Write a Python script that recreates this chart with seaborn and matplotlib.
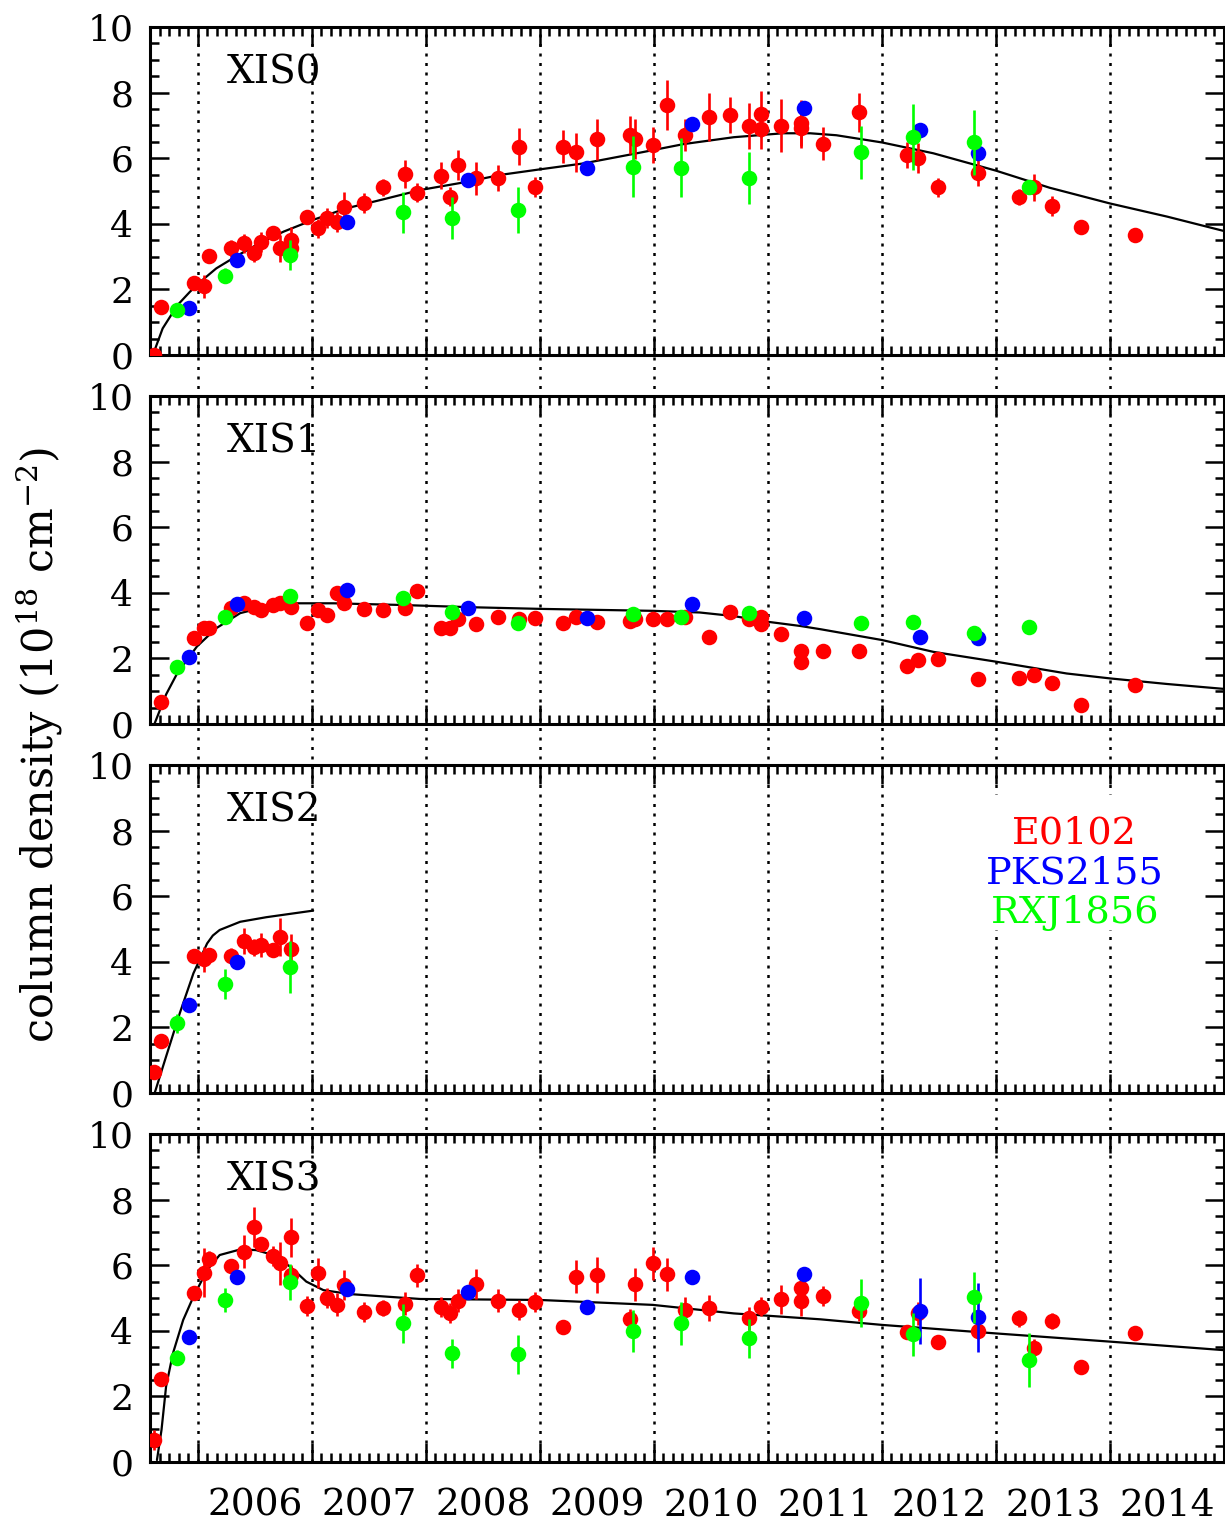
import numpy as np
import matplotlib
matplotlib.use("Agg")
import matplotlib.pyplot as plt
from matplotlib.transforms import blended_transform_factory
from matplotlib.patches import Rectangle
from matplotlib.ticker import MultipleLocator
import seaborn as sns

nan = np.nan

# ---------------------------------------------------------------- data
# E0102 observation epochs (decimal year)
e0102_t = [2005.617, 2005.675, 2005.968, 2006.055, 2006.100, 2006.290, 2006.400, 2006.490,
           2006.550, 2006.660, 2006.720, 2006.820, 2006.820, 2006.960, 2007.050, 2007.130,
           2007.220, 2007.280, 2007.460, 2007.620, 2007.820, 2007.920, 2008.130, 2008.210,
           2008.280, 2008.440, 2008.630, 2008.820, 2008.960, 2009.200, 2009.320, 2009.500,
           2009.790, 2009.830, 2009.990, 2010.110, 2010.270, 2010.480, 2010.670, 2010.830,
           2010.940, 2010.940, 2011.110, 2011.290, 2011.290, 2011.480, 2011.800, 2012.220,
           2012.320, 2012.490, 2012.840, 2013.200, 2013.330, 2013.490, 2013.750, 2014.220]

xis0_e0102 = [0.00, 1.47, 2.20, 2.10, 3.03, 3.25, 3.40, 3.10,
              3.45, 3.71, 3.25, 3.50, 3.25, 4.20, 3.86, 4.17,
              4.06, 4.52, 4.64, 5.11, 5.52, 4.95, 5.47, 4.83,
              5.79, 5.39, 5.39, 6.35, 5.13, 6.35, 6.18, 6.58,
              6.71, 6.58, 6.40, 7.62, 6.71, 7.25, 7.32, 6.98,
              7.34, 6.88, 6.99, 7.08, 6.91, 6.44, 7.40, 6.10,
              6.00, 5.11, 5.54, 4.81, 5.11, 4.54, 3.89, 3.66]
xis0_e0102_err = [0.05, 0.10, 0.15, 0.35, 0.20, 0.25, 0.30, 0.25,
                  0.30, 0.20, 0.40, 0.40, 0.40, 0.20, 0.30, 0.30,
                  0.30, 0.44, 0.30, 0.25, 0.43, 0.30, 0.40, 0.30,
                  0.46, 0.50, 0.40, 0.56, 0.30, 0.50, 0.60, 0.62,
                  0.57, 0.60, 0.54, 0.76, 0.50, 0.74, 0.54, 0.71,
                  0.70, 0.60, 0.80, 0.70, 0.60, 0.50, 0.60, 0.40,
                  0.45, 0.30, 0.40, 0.25, 0.40, 0.30, 0.15, 0.20]

xis1_e0102 = [nan, 0.68, 2.61, 2.92, 2.92, 3.53, 3.70, 3.58,
              3.48, 3.63, 3.70, 3.58, nan, 3.07, 3.48, 3.32,
              3.98, 3.70, 3.50, 3.48, 3.53, 4.06, 2.92, 2.94,
              3.19, 3.04, 3.27, 3.19, 3.22, 3.07, 3.27, 3.10,
              3.14, 3.19, 3.19, 3.20, 3.25, 2.64, 3.40, 3.20,
              3.27, 3.05, 2.73, 2.23, 1.90, 2.23, 2.23, 1.77,
              1.95, 1.98, 1.37, 1.39, 1.49, 1.26, 0.58, 1.19]
xis1_e0102_err = [nan, 0.05, 0.08, 0.08, 0.08, 0.08, 0.10, 0.08,
                  0.08, 0.08, 0.10, 0.10, nan, 0.08, 0.08, 0.08,
                  0.10, 0.10, 0.08, 0.08, 0.10, 0.08, 0.08, 0.08,
                  0.10, 0.08, 0.08, 0.10, 0.08, 0.08, 0.10, 0.10,
                  0.10, 0.10, 0.10, 0.12, 0.10, 0.10, 0.10, 0.10,
                  0.12, 0.10, 0.10, 0.10, 0.10, 0.10, 0.10, 0.08,
                  0.08, 0.08, 0.08, 0.08, 0.08, 0.08, 0.06, 0.06]

# XIS2 only covers the first twelve E0102 epochs
xis2_e0102 = [0.63, 1.59, 4.18, 4.08, 4.21, 4.18, 4.64, 4.44, 4.51, 4.36, 4.77, 4.39]
xis2_e0102_err = [0.05, 0.08, 0.10, 0.38, 0.20, 0.25, 0.40, 0.25, 0.36, 0.15, 0.58, 0.46]

xis3_e0102 = [0.67, 2.53, 5.16, 5.77, 6.19, 5.98, 6.41, 7.17,
              6.65, 6.29, 6.06, 6.85, 5.70, 4.76, 5.77, 4.99,
              4.79, 5.40, 4.58, 4.69, 4.82, 5.70, 4.72, 4.55,
              4.91, 5.43, 4.91, 4.63, 4.87, 4.13, 5.65, 5.70,
              4.35, 5.42, 6.06, 5.72, 4.63, 4.69, nan, 4.38,
              4.74, nan, 4.96, 5.30, 4.91, 5.06, 4.60, 3.97,
              4.53, 3.67, 4.00, 4.38, 3.49, 4.30, 2.89, 3.92]
xis3_e0102_err = [0.30, 0.10, 0.20, 0.75, 0.25, 0.20, 0.50, 0.60,
                  0.20, 0.30, 0.65, 0.60, 0.30, 0.30, 0.45, 0.30,
                  0.35, 0.45, 0.30, 0.25, 0.35, 0.35, 0.30, 0.30,
                  0.35, 0.45, 0.35, 0.30, 0.30, 0.20, 0.50, 0.55,
                  0.30, 0.50, 0.50, 0.50, 0.40, 0.40, nan, 0.35,
                  0.30, nan, 0.45, 0.40, 0.45, 0.30, 0.30, 0.20,
                  0.35, 0.20, 0.25, 0.25, 0.25, 0.25, 0.15, 0.20]

# PKS2155 epochs
pks2155_t = [2005.920, 2006.340, 2007.310, 2008.370, 2009.410, 2010.330, 2011.320, 2012.330, 2012.840]
xis0_pks2155 = [1.42, 2.90, 4.04, 5.34, 5.71, 7.03, 7.54, 6.86, 6.17]
xis0_pks2155_err = [0.05, 0.05, 0.05, 0.05, 0.05, 0.05, 0.05, 0.05, 0.05]
xis1_pks2155 = [2.05, 3.65, 4.09, 3.55, 3.22, 3.66, 3.22, 2.64, 2.63]
xis1_pks2155_err = [0.05, 0.05, 0.05, 0.05, 0.05, 0.05, 0.05, 0.05, 0.05]
xis2_pks2155 = [2.68, 3.98]
xis2_pks2155_err = [0.05, 0.05]
xis3_pks2155 = [3.82, 5.65, 5.26, 5.19, 4.72, 5.65, 5.73, 4.61, 4.41]
xis3_pks2155_err = [0.05, 0.05, 0.05, 0.05, 0.05, 0.05, 0.05, 1.00, 1.05]

# RXJ1856 epochs
rxj1856_t = [2005.820, 2006.240, 2006.810, 2007.800, 2008.230, 2008.810, 2009.820,
             2010.240, 2010.830, 2011.820, 2012.270, 2012.810, 2013.290]
xis0_rxj1856 = [1.37, 2.42, 3.05, 4.35, 4.19, 4.42, 5.74, 5.71, 5.39, 6.18, 6.64, 6.48, 5.11]
xis0_rxj1856_err = [0.10, 0.23, 0.45, 0.63, 0.64, 0.70, 0.93, 0.90, 0.79, 0.81, 1.00, 1.00, 0.10]
xis1_rxj1856 = [1.73, 3.25, 3.90, 3.83, 3.40, 3.07, 3.35, 3.27, 3.39, 3.09, 3.10, 2.78, 2.97]
xis1_rxj1856_err = [0.05, 0.05, 0.05, 0.05, 0.05, 0.05, 0.05, 0.05, 0.05, 0.05, 0.05, 0.05, 0.05]
xis2_rxj1856 = [2.12, 3.32, 3.83]
xis2_rxj1856_err = [0.30, 0.45, 0.79]
xis3_rxj1856 = [3.18, 4.94, 5.50, 4.23, 3.31, 3.28, 3.99, 4.23, 3.77, 4.86, 3.89, 5.02, 3.11]
xis3_rxj1856_err = [0.23, 0.36, 0.55, 0.60, 0.45, 0.60, 0.65, 0.65, 0.60, 0.73, 0.65, 0.78, 0.82]

# model curves
xis0_fit_t = [2005.620, 2005.690, 2005.820, 2005.930, 2006.020, 2006.160, 2006.340, 2006.540,
              2006.750, 2007.010, 2007.300, 2007.630, 2007.950, 2008.360, 2008.650, 2009.000,
              2009.380, 2009.820, 2010.260, 2010.700, 2011.130, 2011.370, 2011.600, 2012.000,
              2012.450, 2013.000, 2013.470, 2014.000, 2014.500, 2015.000]
xis0_fit_v = [0.15, 0.81, 1.52, 1.93, 2.23, 2.64, 3.02, 3.41,
              3.76, 4.12, 4.47, 4.75, 5.03, 5.28, 5.49, 5.66,
              5.84, 6.13, 6.43, 6.64, 6.76, 6.76, 6.70, 6.48,
              6.15, 5.62, 5.10, 4.62, 4.22, 3.78]

xis1_fit_t = [2005.620, 2005.720, 2005.820, 2005.990, 2006.160, 2006.370, 2006.600, 2006.840,
              2007.190, 2007.770, 2008.400, 2009.000, 2009.990, 2010.400, 2010.700, 2010.990,
              2011.280, 2011.460, 2012.000, 2012.450, 2013.000, 2013.620, 2014.000, 2014.500,
              2015.000]
xis1_fit_v = [0.02, 0.90, 1.56, 2.36, 2.92, 3.38, 3.58, 3.68,
              3.68, 3.63, 3.56, 3.51, 3.45, 3.40, 3.29, 3.12,
              2.99, 2.89, 2.56, 2.20, 1.90, 1.54, 1.39, 1.22,
              1.07]

xis2_fit_t = [2005.620, 2005.720, 2005.840, 2005.960, 2006.080, 2006.130, 2006.190, 2006.370,
              2006.600, 2007.010]
xis2_fit_v = [0.00, 1.11, 2.43, 3.65, 4.56, 4.80, 4.97, 5.22,
              5.36, 5.56]

xis3_fit_t = [2005.640, 2005.680, 2005.720, 2005.780, 2005.870, 2005.960, 2006.080, 2006.190,
              2006.370, 2006.510, 2006.660, 2006.810, 2006.950, 2007.100, 2007.330, 2007.950,
              2009.000, 2009.990, 2010.700, 2011.460, 2012.000, 2013.000, 2014.000, 2015.000]
xis3_fit_v = [0.06, 0.98, 2.30, 3.31, 4.33, 5.04, 5.85, 6.31,
              6.48, 6.46, 6.31, 5.95, 5.50, 5.24, 5.12, 4.97,
              4.94, 4.79, 4.53, 4.35, 4.18, 3.92, 3.67, 3.41]

year_labels = ["2006", "2007", "2008", "2009", "2010", "2011", "2012", "2013", "2014"]
source_names = ["E0102", "PKS2155", "RXJ1856"]
panel_names = ["XIS0", "XIS1", "XIS2", "XIS3"]

# ---------------------------------------------------------------- style
sns.set_theme(style="ticks")
plt.rcParams["font.family"] = ["DejaVu Serif"]
plt.rcParams["mathtext.fontset"] = "dejavuserif"

RED, BLUE, GREEN = "#ff0000", "#0000ff", "#00ff00"
FS = 26
XMIN, XMAX = 2005.579, 2015.0

W, H = 1225, 1527
fig = plt.figure(figsize=(W / 100, H / 100), dpi=100)
fig.patch.set_facecolor("white")


def frame(left, top, right, bottom):
    return [left / W, 1 - bottom / H, (right - left) / W, (bottom - top) / H]


# year boundaries running through all panels
guide = fig.add_axes(frame(150, 27, 1224, 1462), zorder=0)
guide.set_xlim(XMIN, XMAX)
guide.set_ylim(0, 1)
guide.axis("off")
boundaries = [int(y) for y in year_labels]
guide.vlines(boundaries, 0, 1, colors="black", linewidth=1.8,
             linestyles=(0, (1.2, 2.6)))

panels = [
    dict(fit=(xis0_fit_t, xis0_fit_v),
         e=(e0102_t, xis0_e0102, xis0_e0102_err),
         p=(pks2155_t, xis0_pks2155, xis0_pks2155_err),
         r=(rxj1856_t, xis0_rxj1856, xis0_rxj1856_err)),
    dict(fit=(xis1_fit_t, xis1_fit_v),
         e=(e0102_t, xis1_e0102, xis1_e0102_err),
         p=(pks2155_t, xis1_pks2155, xis1_pks2155_err),
         r=(rxj1856_t, xis1_rxj1856, xis1_rxj1856_err)),
    dict(fit=(xis2_fit_t, xis2_fit_v),
         e=(e0102_t[:len(xis2_e0102)], xis2_e0102, xis2_e0102_err),
         p=(pks2155_t[:len(xis2_pks2155)], xis2_pks2155, xis2_pks2155_err),
         r=(rxj1856_t[:len(xis2_rxj1856)], xis2_rxj1856, xis2_rxj1856_err)),
    dict(fit=(xis3_fit_t, xis3_fit_v),
         e=(e0102_t, xis3_e0102, xis3_e0102_err),
         p=(pks2155_t, xis3_pks2155, xis3_pks2155_err),
         r=(rxj1856_t, xis3_rxj1856, xis3_rxj1856_err)),
]

tops = [27, 396, 765, 1134]
axes = []
for i, (top, pdata) in enumerate(zip(tops, panels)):
    ax = fig.add_axes(frame(150, top, 1224, top + 328), zorder=1)
    ax.set_facecolor("none")
    axes.append(ax)

    ft, fv = pdata["fit"]
    sns.lineplot(x=ft, y=fv, ax=ax, color="black", linewidth=1.6,
                 estimator=None, sort=False, zorder=2)

    for key, col, z in (("e", RED, 3), ("p", BLUE, 4), ("r", GREEN, 5)):
        t, v, err = (np.asarray(a, dtype=float) for a in pdata[key])
        ax.vlines(t, v - err, v + err, colors=col, linewidth=1.9, zorder=z)
        sns.scatterplot(x=t, y=v, ax=ax, color=col, s=125, linewidth=0,
                        zorder=z + 0.1, legend=False)

    ax.set_xlim(XMIN, XMAX)
    ax.set_ylim(0, 10)
    ax.set_xlabel("")
    ax.set_ylabel("")
    ax.xaxis.set_major_locator(MultipleLocator(1))
    ax.xaxis.set_minor_locator(MultipleLocator(1 / 12))
    ax.yaxis.set_major_locator(MultipleLocator(2))
    ax.yaxis.set_minor_locator(MultipleLocator(0.5))
    ax.tick_params(which="both", direction="in", top=True, right=True,
                   bottom=True, left=True, width=1.8, color="black")
    ax.tick_params(which="major", length=14)
    ax.tick_params(which="minor", length=6.5)
    ax.tick_params(axis="x", labelbottom=False)
    ax.tick_params(axis="y", labelsize=FS, pad=12, labelcolor="black")
    for sp in ax.spines.values():
        sp.set_visible(True)
        sp.set_color("black")
        sp.set_linewidth(2.2)

    ax.text(0.0717, 0.829, panel_names[i], transform=ax.transAxes,
            fontsize=28, ha="left", va="baseline", color="black", zorder=6)

# source key inside the XIS2 panel
key_ax = axes[2]
key_ax.add_patch(Rectangle((0.773, 0.497), 0.177, 0.412, transform=key_ax.transAxes,
                           facecolor="white", edgecolor="none", zorder=1.5))
for name, col, yb in zip(source_names, (RED, BLUE, GREEN), (0.762, 0.640, 0.519)):
    key_ax.text(0.861, yb, name, transform=key_ax.transAxes, color=col,
                fontsize=27.5, ha="center", va="baseline", zorder=6)

# year labels centred within each year
bottom_ax = axes[3]
trans = blended_transform_factory(bottom_ax.transData, bottom_ax.transAxes)
for lab in year_labels:
    bottom_ax.text(int(lab) + 0.5, (1462 - 1506) / 328, lab, transform=trans,
                   fontsize=27, ha="center", va="center", color="black")

fig.text(40 / W, 1 - 745 / H, "column density (10$^{18}$ cm$^{-2}$)",
         rotation=90, ha="center", va="center", fontsize=31, color="black")

fig.savefig("out.png", dpi=100, facecolor="white")
